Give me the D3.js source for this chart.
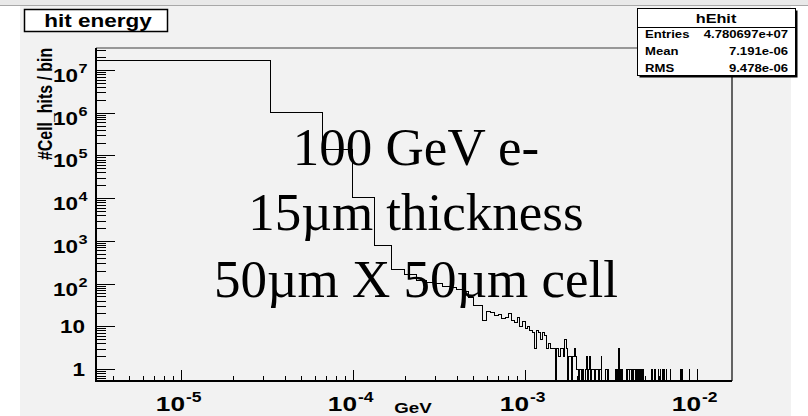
<!DOCTYPE html>
<html>
<head>
<meta charset="utf-8">
<script src="https://cdn.jsdelivr.net/npm/d3@7"></script>
<style>
  html, body { margin: 0; padding: 0; background: #ffffff; }
  svg { display: block; }
</style>
</head>
<body>
<svg id="chart" width="808" height="416"></svg>
<script>
// ---------------- DATA ----------------
const histTitle = "hit energy";
const statsName = "hEhit";
const statsLabels = ["Entries", "Mean", "RMS"];
const statsValues = ["4.780697e+07", "7.191e-06", "9.478e-06"];
const xAxisTitle = "GeV";
const yAxisTitle = "#Cell_hits / bin";
const overlayLines = ["100 GeV e-", "15\u00b5m thickness", "50\u00b5m X 50\u00b5m cell"];

// histogram definition: 480 bins over [0, 0.016] GeV
const nBins = 480;
const histMax = 0.016;
// counts of bins 1..60
const headCounts = [
  1.63e7, 9.9e5, 1.35e5, 1.01e4, 760, 215, 160, 120, 108, 98,
  85, 80, 72, 64, 46, 31, 30, 14, 22, 21,
  18, 19, 15, 16, 20, 14, 12, 16, 10, 13,
  9, 10, 8, 7, 3, 8, 7, 5, 7, 6,
  3, 4, 3, 3, 3, 0, 3, 2, 3, 3,
  2, 5, 3, 0, 2, 2, 0, 2, 3, 2
];
// sparse tail: bin numbers (1-based) beyond 60 that have entries
const tailBins = [61, 63, 64, 66, 68, 69, 71, 72, 74, 75, 76, 78, 79, 80, 82, 83, 84, 89, 90, 92,
  102, 104, 106, 108, 110, 117, 118, 120, 121, 123, 124, 125, 127, 128, 130, 131, 133, 134, 136, 137,
  139, 140, 142, 143, 145, 147, 165, 171, 180, 185, 190, 193, 200, 210, 243, 248, 273, 302];
const tailCounts = [1, 1, 1, 1, 1, 2, 1, 2, 1, 1, 1, 1, 1, 1, 1, 1, 2, 1, 1, 1,
  1, 1, 3, 1, 1, 1, 1, 1, 1, 1, 1, 1, 1, 1, 1, 1, 1, 1, 1, 1,
  1, 1, 1, 1, 1, 1, 1, 1, 1, 1, 1, 1, 1, 1, 1, 1, 1, 1];

const xDomain = [3.206e-6, 0.01597];
const yDomain = [0.524, 3.28e7];
const xMajorTicks = [1e-5, 1e-4, 1e-3, 1e-2];
const xMajorExp = ["-5", "-4", "-3", "-2"];
const yMajorTicks = [1, 10, 1e2, 1e3, 1e4, 1e5, 1e6, 1e7];
const yMajorLabels = [["1", ""], ["10", ""], ["10", "2"], ["10", "3"], ["10", "4"], ["10", "5"], ["10", "6"], ["10", "7"]];

// ---------------- LAYOUT ----------------
const svg = d3.select("#chart");
const frame = { left: 96, right: 732, top: 48, bottom: 381 };
const SX = 1.25; // horizontal stretch of the original image text
const sans = "'Liberation Sans', Arial, Helvetica, sans-serif";
const serif = "'Liberation Serif', 'Times New Roman', serif";

// canvas background
svg.append("rect").attr("x", 0).attr("y", 0).attr("width", 808).attr("height", 416).attr("fill", "#ffffff");
svg.append("rect").attr("x", 0).attr("y", 0).attr("width", 808).attr("height", 6).attr("fill", "#e9e9e9");
svg.append("rect").attr("x", 20).attr("y", 6).attr("width", 771).attr("height", 410).attr("fill", "#f2f2f2");
svg.append("line").attr("x1", 0).attr("x2", 808).attr("y1", 5.5).attr("y2", 5.5).attr("stroke", "#a8a8a8").attr("stroke-width", 1);

const x = d3.scaleLog().domain(xDomain).range([frame.left, frame.right]);
const y = d3.scaleLog().domain(yDomain).range([frame.bottom, frame.top]);

// ---------------- HISTOGRAM ----------------
const counts = new Array(nBins).fill(0);
headCounts.forEach((c, i) => { counts[i] = c; });
tailBins.forEach((b, i) => { counts[b - 1] = tailCounts[i]; });
const w = histMax / nBins;
const yOf = v => (v > yDomain[0] ? y(v) : y(yDomain[0]));
const pts = [];
counts.forEach((c, i) => {
  const lo = Math.max(i * w, xDomain[0]);
  const hi = Math.min((i + 1) * w, xDomain[1]);
  if (i === 0) pts.push([x(lo), yOf(0)]);
  pts.push([x(lo), yOf(c)]);
  pts.push([x(hi), yOf(c)]);
});
pts.push([pts[pts.length - 1][0], yOf(0)]);

svg.append("defs").append("clipPath").attr("id", "fclip")
  .append("rect").attr("x", frame.left).attr("y", frame.top)
  .attr("width", frame.right - frame.left).attr("height", frame.bottom - frame.top);

svg.append("path")
  .attr("d", d3.line()(pts))
  .attr("fill", "none").attr("stroke", "#000").attr("stroke-width", 1)
  .attr("clip-path", "url(#fclip)")
  .attr("shape-rendering", "crispEdges");

// ---------------- FRAME ----------------
svg.append("line").attr("x1", frame.left).attr("x2", frame.right).attr("y1", frame.top).attr("y2", frame.top)
  .attr("stroke", "#7a7a7a").attr("stroke-width", 1.5);
svg.append("line").attr("x1", frame.right).attr("x2", frame.right).attr("y1", frame.top).attr("y2", frame.bottom)
  .attr("stroke", "#333").attr("stroke-width", 1.5);
svg.append("line").attr("x1", frame.left).attr("x2", frame.left).attr("y1", frame.top).attr("y2", frame.bottom + 1)
  .attr("stroke", "#000").attr("stroke-width", 2);
svg.append("line").attr("x1", frame.left - 1).attr("x2", frame.right).attr("y1", frame.bottom).attr("y2", frame.bottom)
  .attr("stroke", "#000").attr("stroke-width", 2);

// ---------------- TICKS ----------------
const ticksG = svg.append("g").attr("stroke", "#000").attr("stroke-width", 1).attr("shape-rendering", "crispEdges");
// x ticks
for (let d = -6; d <= -2; d++) {
  for (let m = 1; m <= 9; m++) {
    const v = m * Math.pow(10, d);
    if (v < xDomain[0] || v > xDomain[1]) continue;
    const len = m === 1 ? 11 : 5;
    const px = Math.round(x(v)) + 0.5;
    ticksG.append("line").attr("x1", px).attr("x2", px).attr("y1", frame.bottom).attr("y2", frame.bottom - len);
  }
}
// y ticks
for (let d = -1; d <= 7; d++) {
  for (let m = 1; m <= 9; m++) {
    const v = m * Math.pow(10, d);
    if (v < yDomain[0] || v > yDomain[1]) continue;
    const len = m === 1 ? 19 : 10;
    const py = Math.round(y(v)) + 0.5;
    ticksG.append("line").attr("x1", frame.left).attr("x2", frame.left + len).attr("y1", py).attr("y2", py);
  }
}

// ---------------- TICK LABELS ----------------
xMajorTicks.forEach((v, i) => {
  const g = svg.append("g").attr("transform", `translate(${x(v) + 4},0) scale(${SX},1)`)
    .attr("font-family", sans).attr("font-weight", "bold").attr("fill", "#000");
  g.append("text").attr("x", 0).attr("y", 411).attr("text-anchor", "end").attr("font-size", 21).text("10");
  g.append("text").attr("x", 0.8).attr("y", 402).attr("text-anchor", "start").attr("font-size", 14).text(xMajorExp[i]);
});

yMajorTicks.forEach((v, i) => {
  const [base, sup] = yMajorLabels[i];
  const ty = y(v);
  if (sup === "") {
    const g = svg.append("g").attr("transform", `translate(85,${ty}) scale(${SX},1)`)
      .attr("font-family", sans).attr("font-weight", "bold").attr("fill", "#000");
    g.append("text").attr("x", 0).attr("y", 6.5).attr("text-anchor", "end").attr("font-size", 18).text(base);
  } else {
    const g = svg.append("g").attr("transform", `translate(78,${ty}) scale(${SX},1)`)
      .attr("font-family", sans).attr("font-weight", "bold").attr("fill", "#000");
    g.append("text").attr("x", 0).attr("y", 12).attr("text-anchor", "end").attr("font-size", 18).text(base);
    g.append("text").attr("x", 0.5).attr("y", 3).attr("text-anchor", "start").attr("font-size", 13).text(sup);
  }
});

// axis titles
svg.append("text").attr("transform", `translate(413,413) scale(${SX},1)`)
  .attr("text-anchor", "middle").attr("font-family", sans).attr("font-weight", "bold")
  .attr("font-size", 15).text(xAxisTitle);
svg.append("text").attr("transform", `translate(52,160) rotate(-90) scale(1,${SX})`)
  .attr("text-anchor", "start").attr("font-family", sans).attr("font-weight", "bold")
  .attr("font-size", 15.9).text(yAxisTitle);

// ---------------- TITLE BOX ----------------
svg.append("rect").attr("x", 24.5).attr("y", 9.5).attr("width", 143).attr("height", 22)
  .attr("fill", "#fff").attr("stroke", "#000").attr("stroke-width", 1.5);
svg.append("text").attr("transform", `translate(98,26.5) scale(${SX},1)`)
  .attr("text-anchor", "middle").attr("font-family", sans).attr("font-weight", "bold")
  .attr("font-size", 18).text(histTitle);

// ---------------- STATS BOX ----------------
const sb = { x: 637.5, y: 8.5, w: 158, h: 67 };
svg.append("rect").attr("x", sb.x + 2).attr("y", sb.y + 2).attr("width", sb.w).attr("height", sb.h).attr("fill", "#000");
svg.append("rect").attr("x", sb.x).attr("y", sb.y).attr("width", sb.w).attr("height", sb.h)
  .attr("fill", "#fff").attr("stroke", "#000").attr("stroke-width", 1);
svg.append("line").attr("x1", sb.x).attr("x2", sb.x + sb.w).attr("y1", 27.5).attr("y2", 27.5)
  .attr("stroke", "#000").attr("stroke-width", 1);
svg.append("text").attr("transform", `translate(716,23) scale(${SX},1)`)
  .attr("text-anchor", "middle").attr("font-family", sans).attr("font-weight", "bold")
  .attr("font-size", 13).text(statsName);
const rowY = [37.5, 55, 72];
statsLabels.forEach((lab, i) => {
  svg.append("text").attr("transform", `translate(645,${rowY[i]}) scale(${SX},1)`)
    .attr("text-anchor", "start").attr("font-family", sans).attr("font-weight", "bold")
    .attr("font-size", 10.5).text(lab);
  svg.append("text").attr("transform", `translate(788,${rowY[i]}) scale(${SX},1)`)
    .attr("text-anchor", "end").attr("font-family", sans).attr("font-weight", "bold")
    .attr("font-size", 10.5).text(statsValues[i]);
});

// ---------------- OVERLAY TEXT ----------------
const lineBase = [165, 230, 297];
overlayLines.forEach((t, i) => {
  svg.append("text").attr("x", 416).attr("y", lineBase[i])
    .attr("text-anchor", "middle").attr("font-family", serif)
    .attr("font-size", 53).attr("fill", "#000").text(t);
});
</script>
</body>
</html>
